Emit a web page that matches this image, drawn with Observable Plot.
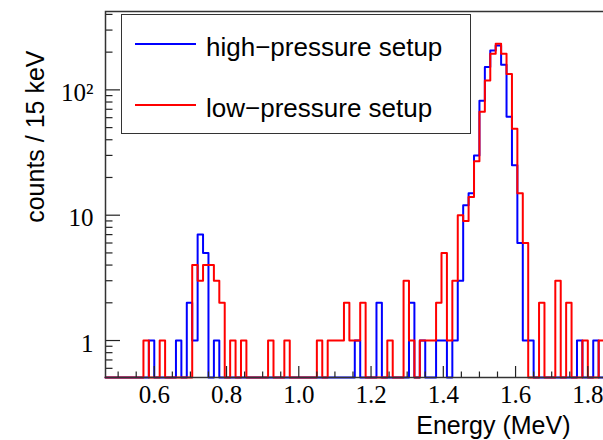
<!DOCTYPE html>
<html><head><meta charset="utf-8">
<script src="https://cdn.jsdelivr.net/npm/d3@7"></script>
<script src="https://cdn.jsdelivr.net/npm/@observablehq/plot@0.6"></script>
<style>
html,body{margin:0;padding:0;background:#fff;overflow:hidden;}
#wrap{position:relative;width:603px;height:440px;overflow:hidden;}
#wrap svg{position:absolute;left:0;top:0;max-width:none !important;}
#legend{position:absolute;left:121px;top:14px;width:350px;height:120px;border:1.5px solid #333;box-sizing:border-box;background:#fff;font-family:"Liberation Sans",Arial,sans-serif;font-size:26px;color:#000;}
.sw{position:absolute;left:12.5px;width:61px;height:0;border-top:2px solid;}
.lab{position:absolute;left:84px;height:30px;line-height:30px;white-space:nowrap;}
</style></head><body><div id="wrap"></div>
<script>
// Histogram definition (15 keV bins)
const binStart = 0.465;
const binWidth = 0.015;
const seriesNames = ["high\u2212pressure setup", "low\u2212pressure setup"];
const highPressure = [
  0,0,0,0,0,0,0,0,1,0,
  0,0,0,1,0,2,1,7,5,0,
  1,0,0,0,0,0,0,0,0,0,
  0,0,0,0,0,0,0,0,0,0,
  0,0,0,0,0,0,1,0,0,0,
  2,0,0,0,0,0,2,0,1,0,
  0,1,1,0,1,3,12,15,30,82,
  152,206,226,159,61,25,6,1,1,0,
  0,0,0,0,0,0,0,1,0,0,
  1,0];
const lowPressure = [
  0,0,0,0,0,0,0,1,0,0,
  1,0,0,0,0,0,4,3,4,4,
  3,2,0,1,0,1,0,0,0,0,
  1,0,0,1,0,0,0,0,0,1,
  0,1,1,1,2,1,1,2,0,0,
  0,0,1,0,0,3,1,0,1,1,
  1,2,5,1,3,10,9,14,27,67,
  119,194,233,194,134,49,15,6,0,0,
  2,0,0,3,0,2,0,0,1,0,
  0,1];
const xDomain = [0.465, 1.86];
const yDomain = [0.507, 422];
const xMajor = [0.6, 0.8, 1.0, 1.2, 1.4, 1.6, 1.8];
const xMinor = [0.5, 0.55, 0.65, 0.7, 0.75, 0.85, 0.9, 0.95, 1.05, 1.1, 1.15, 1.25, 1.3, 1.35, 1.45, 1.5, 1.55, 1.65, 1.7, 1.75, 1.85];
const yMajor = [1, 10, 100];
const yMajorLabels = ["1", "10", "10\u00b2"];
const yMinor = [0.6, 0.7, 0.8, 0.9, 2, 3, 4, 5, 6, 7, 8, 9, 20, 30, 40, 50, 60, 70, 80, 90, 200, 300, 400];
const xTitle = "Energy (MeV)";
const yTitle = "counts / 15 keV";

function steps(counts) {
  const pts = counts.map((c, i) => ({e: binStart + i * binWidth, c}));
  pts.push({e: binStart + counts.length * binWidth, c: counts[counts.length - 1]});
  return pts;
}
const yFloor = d => Math.max(d.c, yDomain[0]);
const serif = "Liberation Serif, Times New Roman, serif";
const sans = "Liberation Sans, Arial, sans-serif";
const axisCol = "#222";
const W = 609, H = 440, mL = 105, mR = 0, mT = 11, mB = 63;
const frameW = W - mL - mR, frameH = H - mT - mB;
// tick lengths in pixels converted through the scale extents
const xPerPx = (xDomain[1] - xDomain[0]) / frameW;
const logPerPx = (Math.log10(yDomain[1]) - Math.log10(yDomain[0])) / frameH;
const xTickEnd = len => xDomain[0] + len * xPerPx;
const yTickEnd = len => yDomain[0] * Math.pow(10, len * logPerPx);

const chart = Plot.plot({
  width: W, height: H,
  marginLeft: mL, marginRight: mR, marginTop: mT, marginBottom: mB,
  style: {background: "transparent", overflow: "visible", maxWidth: "none"},
  x: {type: "linear", domain: xDomain},
  y: {type: "log", domain: yDomain},
  marks: [
    Plot.line(steps(highPressure), {x: "e", y: yFloor, curve: "step-after", stroke: "#0000ff", strokeWidth: 2}),
    Plot.line(steps(lowPressure), {x: "e", y: yFloor, curve: "step-after", stroke: "#ff0000", strokeWidth: 2}),
    Plot.ruleX(xMinor, {x: d => d, y1: yDomain[0], y2: yTickEnd(5.5), stroke: axisCol, strokeWidth: 1.2}),
    Plot.ruleX(xMajor, {x: d => d, y1: yDomain[0], y2: yTickEnd(11), stroke: axisCol, strokeWidth: 1.2}),
    Plot.ruleY(yMinor, {y: d => d, x1: xDomain[0], x2: xTickEnd(7.5), stroke: axisCol, strokeWidth: 1.2}),
    Plot.ruleY(yMajor, {y: d => d, x1: xDomain[0], x2: xTickEnd(15), stroke: axisCol, strokeWidth: 1.2}),
    Plot.frame({stroke: "#333", strokeWidth: 1.5}),
    Plot.axisX({ticks: xMajor, tickSize: 0, tickPadding: 8, tickFormat: d3.format(".1f"), label: null, fontSize: 25, fontFamily: serif, fill: "#000"}),
    Plot.axisY({ticks: yMajor, tickSize: 0, tickPadding: 12, dy: 3, tickFormat: d => yMajorLabels[yMajor.indexOf(d)], label: null, fontSize: 25, fontFamily: serif, fill: "#000"}),
    Plot.text([yTitle], {frameAnchor: "top-left", lineAnchor: "middle", rotate: -90, textAnchor: "end", dx: -70, dy: 39, fontSize: 25, fontFamily: sans, fill: "#000"}),
    Plot.text([xTitle], {frameAnchor: "bottom-right", lineAnchor: "middle", textAnchor: "end", dx: -39, dy: 48, fontSize: 25, fontFamily: sans, fill: "#000"})
  ]
});
const wrap = document.getElementById("wrap");
wrap.appendChild(chart);

const legend = document.createElement("div");
legend.id = "legend";
legend.innerHTML =
  `<div class="sw" style="top:27.5px;border-color:#0000ff"></div><div class="lab" style="top:16.5px">${seriesNames[0]}</div>` +
  `<div class="sw" style="top:88.5px;border-color:#ff0000"></div><div class="lab" style="top:77.5px">${seriesNames[1]}</div>`;
wrap.appendChild(legend);
</script></body></html>
